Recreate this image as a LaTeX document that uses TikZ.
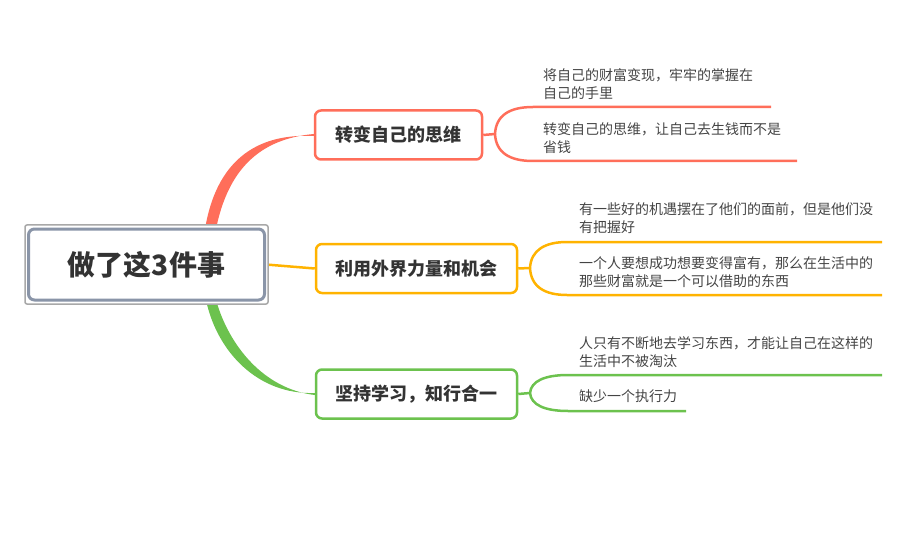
\documentclass[tikz,border=0pt]{standalone}
\usepackage{fontspec}
\newfontfamily\cjk{Noto Sans CJK SC}
\definecolor{cred}{HTML}{FF6E5A}
\definecolor{corange}{HTML}{FFB300}
\definecolor{cgreen}{HTML}{6CC24E}
\definecolor{croot}{HTML}{8A95A8}
\definecolor{couter}{HTML}{A8A8A8}
\definecolor{ctext}{HTML}{333333}
\definecolor{cleaf}{HTML}{444444}
\pgfdeclarelayer{bg}
\pgfsetlayers{bg,main}
\tikzset{
  branchbox/.style={draw, line width=2.5pt, rounded corners=6pt, fill=white, minimum height=49pt, inner sep=0pt,
    font=\cjk\fontsize{18}{22}\selectfont\bfseries, text=ctext},
  leaftext/.style={anchor=west, align=left, inner sep=0pt, font=\cjk\fontsize{14}{18}\selectfont, text=cleaf},
  leafline/.style={line width=2.5pt}
}
\begin{document}
\begin{tikzpicture}[x=1pt,y=-1pt]
\useasboundingbox (0,0) rectangle (918,556);
% root
\draw[couter, line width=1.5pt, rounded corners=2pt, fill=white] (25,225) rectangle (268,304);
\node[draw=croot, line width=3pt, rounded corners=6pt, fill=white, minimum width=236pt, minimum height=71pt, inner sep=0pt,
  font=\cjk\fontsize{28}{32}\selectfont\bfseries, text=ctext] (root) at (146.5,264.5) {做了这3件事};
% branches
\node[branchbox, draw=cred, minimum width=167pt] (b1) at (398.5,135) {转变自己的思维};
\node[branchbox, draw=corange, minimum width=201pt] (b2) at (416.5,268.5) {利用外界力量和机会};
\node[branchbox, draw=cgreen, minimum width=201pt] (b3) at (416.5,394) {坚持学习，知行合一};
% root connectors (behind the root box)
\begin{pgfonlayer}{bg}
\fill[cred] (205,229) .. controls (216,163) and (254,133) .. ([yshift=-1pt]b1.west) -- ([yshift=1pt]b1.west) .. controls (259,139) and (228,170) .. (216,229) -- cycle;
\draw[corange, line width=2.5pt] (root.east) -- (b2.west);
\fill[cgreen] (206,300) .. controls (217,352) and (258,395) .. ([yshift=1pt]b3.west) -- ([yshift=-1pt]b3.west) .. controls (264,389) and (229,346) .. (216,300) -- cycle;
\end{pgfonlayer}
% branch 1 leaves
\coordinate (j1) at (495,134);
\coordinate (e1a) at (771,107);
\coordinate (e1b) at (797,161);
\draw[cred, leafline] (b1.east) -- (j1);
\draw[cred, leafline] (j1) .. controls (496,115) and (510,107) .. (533,107) -- (e1a);
\draw[cred, leafline] (j1) .. controls (496,153) and (510,161) .. (533,161) -- (e1b);
\node[leaftext] (t1a) at (543,84) {将自己的财富变现，牢牢的掌握在\\自己的手里};
\node[leaftext] (t1b) at (543,138) {转变自己的思维，让自己去生钱而不是\\省钱};
% branch 2 leaves
\coordinate (j2) at (530,268);
\coordinate (e2a) at (882,242);
\coordinate (e2b) at (882,295);
\draw[corange, leafline] (b2.east) -- (j2);
\draw[corange, leafline] (j2) .. controls (531,250) and (545,242) .. (567,242) -- (e2a);
\draw[corange, leafline] (j2) .. controls (531,287) and (545,295) .. (567,295) -- (e2b);
\node[leaftext] (t2a) at (579,218) {有一些好的机遇摆在了他们的面前，但是他们没\\有把握好};
\node[leaftext] (t2b) at (579,272) {一个人要想成功想要变得富有，那么在生活中的\\那些财富就是一个可以借助的东西};
% branch 3 leaves
\coordinate (j3) at (530,393);
\coordinate (e3a) at (882,375);
\coordinate (e3b) at (686,411);
\draw[cgreen, leafline] (b3.east) -- (j3);
\draw[cgreen, leafline] (j3) .. controls (531,381) and (545,375) .. (568,375) -- (e3a);
\draw[cgreen, leafline] (j3) .. controls (531,405) and (545,411) .. (568,411) -- (e3b);
\node[leaftext] (t3a) at (579,352) {人只有不断地去学习东西，才能让自己在这样的\\生活中不被淘汰};
\node[leaftext] (t3b) at (579,396) {缺少一个执行力};
\end{tikzpicture}
\end{document}
